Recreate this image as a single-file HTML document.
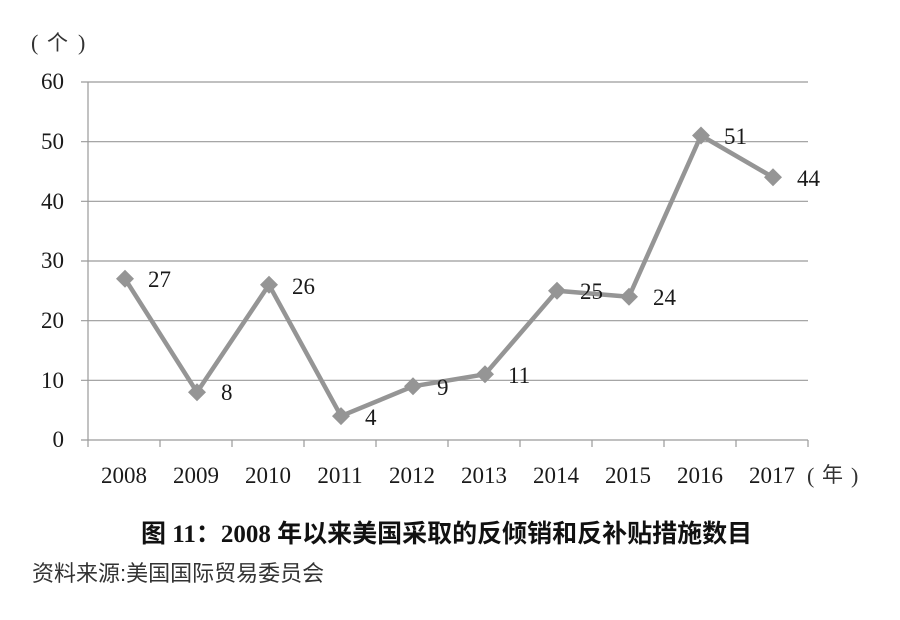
<!DOCTYPE html>
<html>
<head>
<meta charset="utf-8">
<style>
  html,body{margin:0;padding:0;background:#fff;}
  body{width:900px;height:620px;overflow:hidden;position:relative;}
  svg{position:absolute;left:0;top:0;}
  .num{font-family:"Liberation Serif","Noto Serif CJK SC",serif;font-size:23px;fill:#1a1a1a;}
  .cjk{font-family:"Liberation Serif","Noto Sans CJK SC",sans-serif;}
</style>
</head>
<body>
<svg width="900" height="620" viewBox="0 0 900 620" xmlns="http://www.w3.org/2000/svg">
  <!-- unit label -->
  <g class="cjk" fill="#333">
    <text x="31" y="50" font-size="22">(</text>
    <text x="47" y="50" font-size="21">个</text>
    <text x="78" y="50" font-size="22">)</text>
  </g>

  <!-- gridlines -->
  <g stroke="#9a9a9a" stroke-width="1.2">
    <line x1="81" y1="82" x2="808" y2="82"/>
    <line x1="81" y1="141.7" x2="808" y2="141.7"/>
    <line x1="81" y1="201.3" x2="808" y2="201.3"/>
    <line x1="81" y1="261" x2="808" y2="261"/>
    <line x1="81" y1="320.7" x2="808" y2="320.7"/>
    <line x1="81" y1="380.3" x2="808" y2="380.3"/>
    <line x1="81" y1="440" x2="808" y2="440"/>
    <!-- y axis -->
    <line x1="88" y1="82" x2="88" y2="447"/>
    <!-- x ticks -->
    <line x1="160" y1="440" x2="160" y2="447"/>
    <line x1="232" y1="440" x2="232" y2="447"/>
    <line x1="304" y1="440" x2="304" y2="447"/>
    <line x1="376" y1="440" x2="376" y2="447"/>
    <line x1="448" y1="440" x2="448" y2="447"/>
    <line x1="520" y1="440" x2="520" y2="447"/>
    <line x1="592" y1="440" x2="592" y2="447"/>
    <line x1="664" y1="440" x2="664" y2="447"/>
    <line x1="736" y1="440" x2="736" y2="447"/>
    <line x1="808" y1="440" x2="808" y2="447"/>
  </g>

  <!-- y labels -->
  <g class="num" text-anchor="end">
    <text x="64" y="89">60</text>
    <text x="64" y="149">50</text>
    <text x="64" y="209">40</text>
    <text x="64" y="268">30</text>
    <text x="64" y="328">20</text>
    <text x="64" y="388">10</text>
    <text x="64" y="447">0</text>
  </g>

  <!-- x labels -->
  <g class="num" text-anchor="middle">
    <text x="124" y="483">2008</text>
    <text x="196" y="483">2009</text>
    <text x="268" y="483">2010</text>
    <text x="340" y="483">2011</text>
    <text x="412" y="483">2012</text>
    <text x="484" y="483">2013</text>
    <text x="556" y="483">2014</text>
    <text x="628" y="483">2015</text>
    <text x="700" y="483">2016</text>
    <text x="772" y="483">2017</text>
  </g>
  <g class="cjk" fill="#333">
    <text x="807" y="483" font-size="22">(</text>
    <text x="822" y="482" font-size="21">年</text>
    <text x="851" y="483" font-size="22">)</text>
  </g>

  <!-- series line -->
  <polyline fill="none" stroke="#959595" stroke-width="4.5" stroke-linejoin="round"
    points="125,278.8 197,392.2 269,284.8 341,416.1 413,386.3 485,374.3 557,290.8 629,296.7 701,135.5 773,177.3"/>
  <!-- markers -->
  <g fill="#959595">
    <polygon points="125,269.8 134,278.8 125,287.8 116,278.8"/>
    <polygon points="197,383.2 206,392.2 197,401.2 188,392.2"/>
    <polygon points="269,275.8 278,284.8 269,293.8 260,284.8"/>
    <polygon points="341,407.1 350,416.1 341,425.1 332,416.1"/>
    <polygon points="413,377.3 422,386.3 413,395.3 404,386.3"/>
    <polygon points="485,365.3 494,374.3 485,383.3 476,374.3"/>
    <polygon points="557,281.8 566,290.8 557,299.8 548,290.8"/>
    <polygon points="629,287.7 638,296.7 629,305.7 620,296.7"/>
    <polygon points="701,126.5 710,135.5 701,144.5 692,135.5"/>
    <polygon points="773,168.3 782,177.3 773,186.3 764,177.3"/>
  </g>

  <!-- data labels -->
  <g class="num">
    <text x="148" y="287">27</text>
    <text x="221" y="400">8</text>
    <text x="292" y="294">26</text>
    <text x="365" y="425">4</text>
    <text x="437" y="395">9</text>
    <text x="508" y="383">11</text>
    <text x="580" y="299">25</text>
    <text x="653" y="305">24</text>
    <text x="724" y="144">51</text>
    <text x="797" y="186">44</text>
  </g>

  <!-- title -->
  <text x="141" y="542" font-family="'Liberation Serif','Noto Sans CJK SC',sans-serif" font-weight="bold" font-size="25" fill="#111">图 11：2008 年以来美国采取的反倾销和反补贴措施数目</text>

  <!-- source -->
  <text x="32" y="581" font-family="'Liberation Sans','Noto Sans CJK SC',sans-serif" font-size="22" fill="#333">资料来源:美国国际贸易委员会</text>
</svg>
</body>
</html>
